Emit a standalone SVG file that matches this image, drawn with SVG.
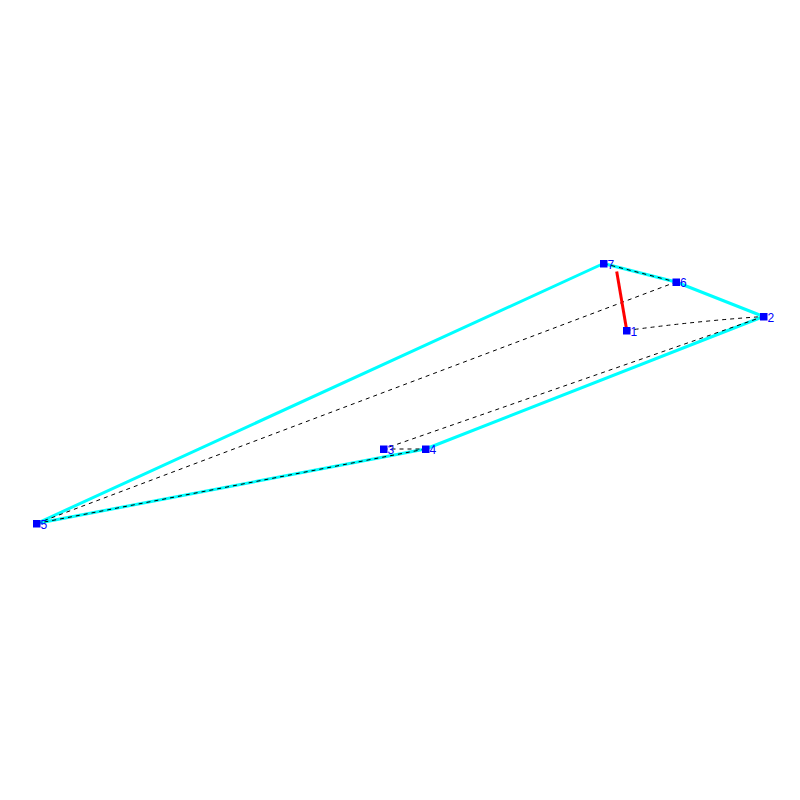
<svg xmlns="http://www.w3.org/2000/svg" width="800" height="800" viewBox="0 0 800 800">
<style>
.edge{fill:none;stroke:#00ffff;stroke-width:3;stroke-linejoin:round}
.dash{fill:none;stroke:#000000;stroke-width:1;stroke-dasharray:4,4}
.red{fill:none;stroke:#ff0000;stroke-width:3}
.pt{fill:#0000ff}
.lbl{fill:#0000ff;font-family:"Liberation Sans",Arial,sans-serif;font-size:12px}
</style>
<rect width="800" height="800" fill="#ffffff"/>
<g id="connectors">
<polyline class="edge" points="36.5,523.5 603.5,263.5 676,282 763.5,316.5 425.5,449 36.5,523.5"/>
<line class="dash" x1="603.5" y1="263.5" x2="676" y2="282"/>
<line class="dash" x1="36.5" y1="523.5" x2="676" y2="282"/>
<path class="dash" d="M626.5,330.5 Q697,321 763.5,316.5"/>
<line class="dash" x1="763.5" y1="316.5" x2="383.5" y2="449"/>
<line class="dash" x1="383.5" y1="449" x2="425.5" y2="449"/>
<line class="dash" x1="36.5" y1="523.5" x2="425.5" y2="449"/>
<line class="red" x1="616.7" y1="271.5" x2="626.5" y2="329"/>
</g>
<g id="n1"><rect class="pt" x="623" y="327" width="7.5" height="7.5"/><text class="lbl" x="630.5" y="335.5">1</text></g>
<g id="n2"><rect class="pt" x="760" y="313" width="7.5" height="7.5"/><text class="lbl" x="767.5" y="321.5">2</text></g>
<g id="n3"><rect class="pt" x="380" y="445.5" width="7.5" height="7.5"/><text class="lbl" x="387.5" y="454">3</text></g>
<g id="n4"><rect class="pt" x="422" y="445.5" width="7.5" height="7.5"/><text class="lbl" x="429.5" y="454">4</text></g>
<g id="n5"><rect class="pt" x="33" y="520" width="7.5" height="7.5"/><text class="lbl" x="40.5" y="528.5">5</text></g>
<g id="n6"><rect class="pt" x="672.5" y="278.5" width="7.5" height="7.5"/><text class="lbl" x="680" y="287">6</text></g>
<g id="n7"><rect class="pt" x="600" y="260" width="7.5" height="7.5"/><text class="lbl" x="607.5" y="268.5">7</text></g>
</svg>
